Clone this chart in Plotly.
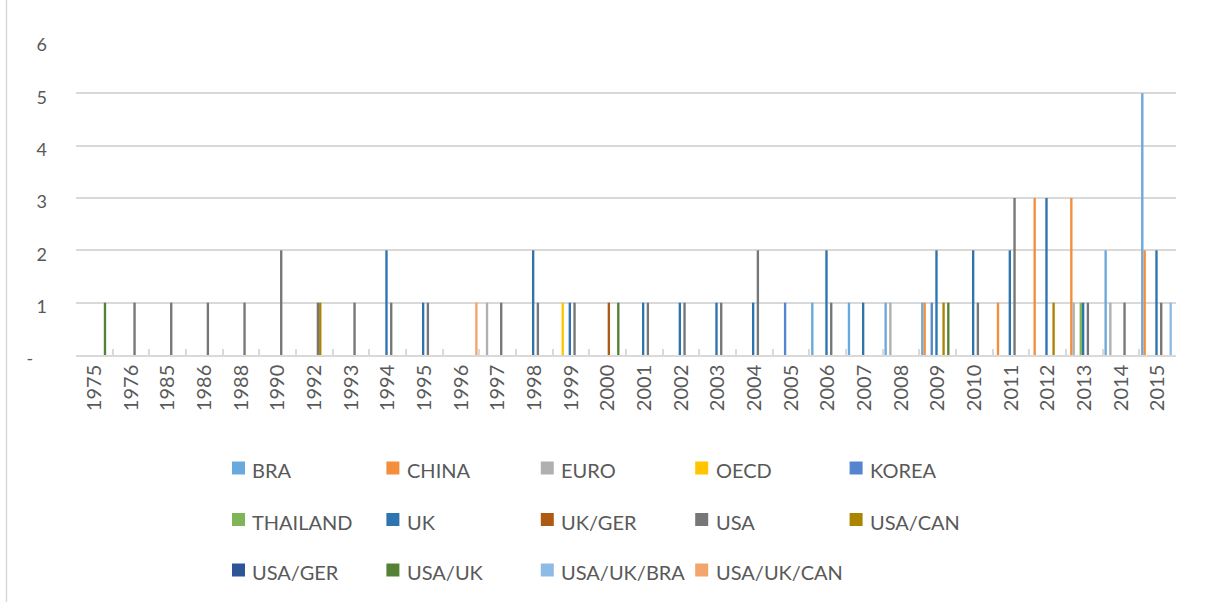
import plotly.graph_objects as go

N = None
years = ["1975", "1976", "1985", "1986", "1988", "1990", "1992", "1993", "1994", "1995",
         "1996", "1997", "1998", "1999", "2000", "2001", "2002", "2003", "2004", "2005",
         "2006", "2007", "2008", "2009", "2010", "2011", "2012", "2013", "2014", "2015"]

bra        = [N, N, N, N, N, N, N, N, N, N,  N, N, N, N, N, N, N, N, N, N,  1, 1, 1, 1, N, N, N, N, 2, 5]
china      = [N, N, N, N, N, N, N, N, N, N,  N, N, N, N, N, N, N, N, N, N,  N, N, N, 1, N, 1, 3, 3, N, 2]
euro       = [N, N, N, N, N, N, N, N, N, N,  N, 1, N, N, N, N, N, N, N, N,  N, N, 1, N, N, N, N, 1, 1, N]
oecd       = [N, N, N, N, N, N, N, N, N, N,  N, N, N, 1, N, N, N, N, N, N,  N, N, N, N, N, N, N, N, N, N]
korea      = [N, N, N, N, N, N, N, N, N, N,  N, N, N, N, N, N, N, N, N, 1,  N, N, N, 1, N, N, N, N, N, N]
thailand   = [N, N, N, N, N, N, N, N, N, N,  N, N, N, N, N, N, N, N, N, N,  N, N, N, N, N, N, N, 1, N, N]
uk         = [N, N, N, N, N, N, N, N, 2, 1,  N, N, 2, 1, N, 1, 1, 1, 1, N,  2, 1, N, 2, 2, 2, 3, 1, N, 2]
uk_ger     = [N, N, N, N, N, N, N, N, N, N,  N, N, N, N, 1, N, N, N, N, N,  N, N, N, N, N, N, N, N, N, N]
usa        = [N, 1, 1, 1, 1, 2, 1, 1, 1, 1,  N, 1, 1, 1, N, 1, 1, 1, 2, N,  1, N, N, N, 1, 3, N, 1, 1, 1]
usa_can    = [N, N, N, N, N, N, 1, N, N, N,  N, N, N, N, N, N, N, N, N, N,  N, N, N, 1, N, N, 1, N, N, N]
usa_ger    = [N, N, N, N, N, N, N, N, N, N,  N, N, N, N, N, N, N, N, N, N,  N, N, N, N, N, N, N, N, N, N]
usa_uk     = [1, N, N, N, N, N, N, N, N, N,  N, N, N, N, 1, N, N, N, N, N,  N, N, N, 1, N, N, N, N, N, N]
usa_uk_bra = [N, N, N, N, N, N, N, N, N, N,  N, N, N, N, N, N, N, N, N, N,  N, N, N, N, N, N, N, N, N, 1]
usa_uk_can = [N, N, N, N, N, N, N, N, N, N,  1, N, N, N, N, N, N, N, N, N,  N, N, N, N, N, N, N, N, N, N]

series_names = ["BRA", "CHINA", "EURO", "OECD", "KOREA",
                "THAILAND", "UK", "UK/GER", "USA", "USA/CAN",
                "USA/GER", "USA/UK", "USA/UK/BRA", "USA/UK/CAN"]
series_values = [bra, china, euro, oecd, korea, thailand, uk, uk_ger, usa, usa_can,
                 usa_ger, usa_uk, usa_uk_bra, usa_uk_can]
series_colors = ["#6AA9DC", "#F28E3C", "#B0B0B0", "#FFC600", "#5585CF",
                 "#7EB558", "#2E75B0", "#AE5A12", "#777777", "#AA8500",
                 "#2F5597", "#548235", "#8EBBE5", "#F2A56C"]

FONT = "Lato, 'Noto Sans', sans-serif"
TXT = "#595959"
GRID = "#D9D9D9"

fig = go.Figure()
for name, vals, col in zip(series_names, series_values, series_colors):
    fig.add_trace(go.Bar(x=years, y=vals, name=name, marker_color=col,
                         marker_line_width=0, showlegend=False))

W, H = 1205, 602
L, R, T, B = 76, 29, 41, 247
ph = H - T - B
pw = W - L - R


def py(ypix):
    return (H - B - ypix) / ph


def px(xpix):
    return (xpix - L) / pw


# legend laid out like the Excel legend: 5 columns x 3 rows
leg_x0, leg_dx, leg_text_dx, sw = 232, 154.4, 18.4, 13
leg_rows_y = [470, 521.5, 572]
shapes = [dict(type="line", xref="paper", yref="paper",
               x0=px(6.5), x1=px(6.5), y0=py(602), y1=py(0),
               line=dict(color=GRID, width=1.5))]
annotations = []
for i, (name, col) in enumerate(zip(series_names, series_colors)):
    r, c = divmod(i, 5)
    xs = leg_x0 + c * leg_dx
    yc = leg_rows_y[r]
    shapes.append(dict(type="rect", xref="paper", yref="paper",
                       x0=px(xs), x1=px(xs + sw), y0=py(yc - sw / 2 - 2), y1=py(yc + sw / 2 - 2),
                       fillcolor=col, line=dict(width=0)))
    annotations.append(dict(text=name, xref="paper", yref="paper",
                            x=px(xs + leg_text_dx), y=py(yc), xanchor="left", yanchor="middle",
                            showarrow=False, font=dict(family=FONT, size=20, color=TXT)))

fig.update_layout(
    width=W, height=H,
    margin=dict(l=L, r=R, t=T, b=B),
    paper_bgcolor="white", plot_bgcolor="white",
    barmode="group", bargap=0.097, bargroupgap=0,
    font=dict(family=FONT, color=TXT),
    showlegend=False,
    shapes=shapes,
    annotations=annotations,
)

fig.update_xaxes(type="category", showline=True, linecolor=GRID, linewidth=1.5,
                 ticks="inside", tickson="boundaries", ticklen=6, tickcolor=GRID,
                 tickwidth=1.5, tickangle=-90, showgrid=False,
                 tickfont=dict(family=FONT, size=20, color=TXT),
                 ticklabelstandoff=0)

fig.update_yaxes(range=[0, 6], tickvals=[0, 1, 2, 3, 4, 5, 6],
                 ticktext=["-\u00a0\u00a0\u00a0", "1", "2", "3", "4", "5", "6"],
                 showgrid=True, gridcolor=GRID, gridwidth=1.5, zeroline=False,
                 showline=False, ticks="", ticklabelstandoff=28, ticklabelshift=4,
                 tickfont=dict(family=FONT, size=18, color=TXT))

fig.write_html("out.html", config={"displayModeBar": False},
               post_script="document.body.style.margin='0px';")
